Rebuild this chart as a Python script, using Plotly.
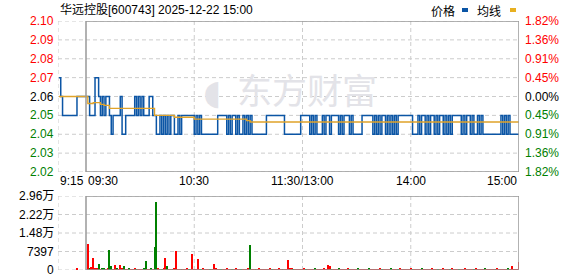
import plotly.graph_objects as go

# ---------------- data ----------------
title_text = "华远控股[600743] 2025-12-22 15:00"
prev_close = 2.06

# pre-market (9:15 - 9:29), minutes relative to 9:30
pre_minutes = [-15, -14, -13, -12, -11, -10, -9, -8, -7, -6, -5, -4, -3, -2, -1]
pre_price = [2.07, 2.06, 2.05, 2.05, 2.05, 2.05, 2.05, 2.05, 2.05, 2.05, 2.06, 2.06, 2.06, 2.06, 2.06]
pre_vol_minutes = [-5]
pre_vol = [500]

# trading minutes 0..240 (9:30-11:30, 13:00-15:00)
price = [
    2.06, 2.06, 2.05, 2.05, 2.05, 2.07, 2.07, 2.06, 2.05, 2.06,
    2.05, 2.06, 2.06, 2.05, 2.04, 2.05, 2.05, 2.05, 2.05, 2.06,
    2.04, 2.04, 2.05, 2.05, 2.05, 2.05, 2.05, 2.06, 2.05, 2.06,
    2.05, 2.06, 2.05, 2.05, 2.05, 2.06, 2.06, 2.05, 2.05, 2.04,
    2.04, 2.05, 2.04, 2.05, 2.04, 2.05, 2.04, 2.05, 2.05, 2.04,
    2.04, 2.05, 2.04, 2.05, 2.05, 2.05, 2.05, 2.05, 2.05, 2.05,
    2.04, 2.05, 2.04, 2.05, 2.04, 2.04, 2.04, 2.04, 2.04, 2.04,
    2.04, 2.04, 2.04, 2.05, 2.05, 2.05, 2.05, 2.05, 2.04, 2.05,
    2.04, 2.05, 2.05, 2.04, 2.05, 2.04, 2.04, 2.05, 2.04, 2.05,
    2.04, 2.05, 2.04, 2.04, 2.04, 2.04, 2.04, 2.04, 2.04, 2.04,
    2.05, 2.05, 2.05, 2.05, 2.05, 2.05, 2.05, 2.05, 2.05, 2.05,
    2.04, 2.04, 2.04, 2.04, 2.04, 2.04, 2.04, 2.04, 2.04, 2.05,
    2.05, 2.05, 2.05, 2.05, 2.04, 2.05, 2.04, 2.05, 2.04, 2.04,
    2.04, 2.05, 2.04, 2.05, 2.05, 2.04, 2.05, 2.05, 2.05, 2.05,
    2.04, 2.05, 2.04, 2.05, 2.05, 2.05, 2.04, 2.05, 2.04, 2.04,
    2.04, 2.04, 2.04, 2.05, 2.05, 2.05, 2.05, 2.05, 2.05, 2.04,
    2.05, 2.04, 2.05, 2.04, 2.05, 2.05, 2.04, 2.05, 2.04, 2.05,
    2.04, 2.05, 2.04, 2.05, 2.05, 2.05, 2.05, 2.05, 2.05, 2.05,
    2.05, 2.04, 2.04, 2.04, 2.05, 2.04, 2.05, 2.05, 2.04, 2.05,
    2.04, 2.05, 2.05, 2.04, 2.05, 2.04, 2.05, 2.05, 2.04, 2.05,
    2.04, 2.05, 2.04, 2.05, 2.05, 2.05, 2.05, 2.05, 2.04, 2.05,
    2.04, 2.05, 2.05, 2.04, 2.05, 2.04, 2.04, 2.05, 2.04, 2.05,
    2.04, 2.04, 2.04, 2.04, 2.04, 2.04, 2.04, 2.04, 2.04, 2.04,
    2.05, 2.04, 2.05, 2.04, 2.05, 2.04, 2.04, 2.04, 2.04, 2.04,
    2.04,
]

# average-price line (step changes)
avg_minutes = [-15, 1, 4, 8, 10, 13, 38, 49, 60, 89, 91, 240]
avg_price = [2.06, 2.0563, 2.0568, 2.0558, 2.0553, 2.0537, 2.0500, 2.0490, 2.0480, 2.0472, 2.0465, 2.0465]

volume = [
    0, 10400, 600, 1080, 4680, 1000, 500, 2270, 400, 500,
    450, 300, 500, 8000, 1600, 400, 2000, 500, 350, 2000,
    450, 1600, 400, 350, 500, 400, 300, 450, 400, 350,
    400, 350, 500, 3600, 400, 300, 450, 400, 9200, 27200,
    1000, 400, 350, 500, 4800, 1600, 400, 350, 300, 450,
    7700, 400, 350, 300, 400, 350, 450, 300, 400, 6400,
    400, 350, 4400, 400, 300, 450, 350, 400, 300, 350,
    400, 2400, 450, 350, 400, 300, 350, 400, 450, 300,
    350, 400, 300, 450, 350, 400, 300, 350, 400, 300,
    450, 10000, 400, 350, 400, 300, 450, 350, 300, 400,
    350, 400, 450, 300, 350, 400, 300, 450, 350, 400,
    300, 400, 4000, 1000, 450, 350, 400, 300, 350, 400,
    300, 450, 350, 400, 300, 350, 400, 450, 300, 350,
    400, 300, 450, 350, 2000, 1600, 400, 300, 350, 400,
    450, 300, 350, 400, 300, 450, 350, 400, 300, 350,
    400, 450, 300, 350, 400, 300, 350, 450, 400, 300,
    350, 400, 300, 450, 350, 400, 300, 350, 400, 450,
    300, 350, 400, 300, 450, 350, 400, 300, 350, 400,
    450, 300, 350, 400, 300, 350, 450, 400, 300, 350,
    400, 300, 450, 350, 400, 300, 350, 400, 450, 300,
    350, 400, 300, 450, 350, 400, 300, 350, 400, 300,
    450, 350, 400, 300, 350, 400, 450, 300, 350, 400,
    300, 450, 350, 400, 300, 350, 400, 300, 450, 350,
    400, 300, 350, 400, 450, 300, 1600, 350, 400, 300,
    3300,
]
volume_dir = ("rrgrrrrgrg" "grrggrrgrr" "rgrrgrrrgr" "rrggrrgrgg" "rrgrrgrrgr"
              "rrrgrrrgrr" "rrrrgrrrrg" "rrrrrgrrrr" "rgrrrrgrrr" "rgrrgrrrrr"
              "rrrgrrrrrg" "rrrrrgrrrr" "rrgrrrrgrr" "rrrrrrgrrr" "grrrrrgrrr"
              "rgrrrrrgrr" "rrrrgrrrrg" "rrrgrrrrrr" "rgrrrrgrrr" "rrrrrgrrrr"
              "rrgrrrrgrr" "rrrrrgrrrr" "rgrrrrrgrr" "rrrrgrrrrr" "r")

price_ticks = [2.10, 2.09, 2.08, 2.07, 2.06, 2.05, 2.04, 2.03, 2.02]
pct_labels = ["1.82%", "1.36%", "0.91%", "0.45%", "0.00%", "0.45%", "0.91%", "1.36%", "1.82%"]
vol_ticks = [29588, 22191, 14794, 7397, 0]
vol_labels = ["2.96万", "2.22万", "1.48万", "7397", "0"]
time_ticks = [-15.52, 0, 60, 120, 180, 240]
time_labels = ["9:15", "09:30", "10:30", "11:30/13:00", "14:00", "15:00"]

# ---------------- styling / layout ----------------
W, H = 578, 276
XMIN, XMAX = -15.52, 240
RED, GREEN, BLACK = "#ff0000", "#008000", "#000000"
BLUE, GOLD = "#0b55a5", "#e0a32a"
GRID = "#cccccc"
BOX = "#999999"
FONT = "Liberation Sans, Arial, Noto Sans CJK SC, sans-serif"
CJK = "Noto Sans CJK SC, sans-serif"

def px_x(px):
    return px / W

def px_y(py):
    return (H - py) / H

fig = go.Figure()

# watermark (drawn first -> below lines)
fig.add_trace(go.Scatter(
    x=[122.5], y=[2.0605], mode="text", text=["东方财富"],
    textfont=dict(family=CJK, size=35, color="#e3e3e8"),
    xaxis="x", yaxis="y", hoverinfo="skip", showlegend=False))
fig.add_trace(go.Scatter(
    x=[70], y=[2.0605], mode="text", text=["◖"],
    textfont=dict(family="DejaVu Sans", size=34, color="#e3e3e8"),
    xaxis="x", yaxis="y", hoverinfo="skip", showlegend=False))

# price line
fig.add_trace(go.Scatter(
    x=pre_minutes + list(range(len(price))), y=pre_price + price,
    mode="lines", line=dict(color=BLUE, width=1.5, shape="hv"),
    xaxis="x", yaxis="y", hoverinfo="skip", showlegend=False))
# average line
fig.add_trace(go.Scatter(
    x=avg_minutes, y=avg_price, mode="lines",
    line=dict(color=GOLD, width=1.3, shape="hv"),
    xaxis="x", yaxis="y", hoverinfo="skip", showlegend=False))

# volume bars
vol_colors = [RED if d == "r" else GREEN for d in volume_dir]
fig.add_trace(go.Bar(
    x=pre_vol_minutes + list(range(len(volume))), y=pre_vol + volume,
    marker=dict(color=[RED] * len(pre_vol) + vol_colors, line=dict(width=0)),
    width=0.6, xaxis="x2", yaxis="y2", hoverinfo="skip", showlegend=False))

shapes = []
dash = "4px,3px"
# price panel grid
for v in price_ticks:
    shapes.append(dict(type="line", xref="x", yref="y", x0=XMIN, x1=XMAX, y0=v, y1=v,
                       line=dict(color=GRID, width=1, dash=dash), layer="below"))
for t in [XMIN, 60, 120, 180]:
    shapes.append(dict(type="line", xref="x", yref="y", x0=t, x1=t,
                       y0=price_ticks[-1], y1=price_ticks[0],
                       line=dict(color=GRID, width=1, dash=dash), layer="below"))
shapes.append(dict(type="rect", xref="x", yref="y", x0=0, x1=XMAX,
                   y0=price_ticks[-1], y1=price_ticks[0],
                   line=dict(color=BOX, width=1.5)))
# volume panel grid
for v in vol_ticks:
    shapes.append(dict(type="line", xref="x2", yref="y2", x0=XMIN, x1=XMAX, y0=v, y1=v,
                       line=dict(color=GRID, width=1, dash=dash), layer="below"))
for t in [XMIN, 60, 120, 180]:
    shapes.append(dict(type="line", xref="x2", yref="y2", x0=t, x1=t,
                       y0=0, y1=vol_ticks[0],
                       line=dict(color=GRID, width=1, dash=dash), layer="below"))
shapes.append(dict(type="rect", xref="x2", yref="y2", x0=0, x1=XMAX,
                   y0=0, y1=vol_ticks[0], line=dict(color=BOX, width=1.5)))
# legend squares
shapes.append(dict(type="rect", xref="paper", yref="paper",
                   x0=px_x(462), x1=px_x(468), y0=px_y(12), y1=px_y(8),
                   fillcolor=BLUE, line=dict(width=0)))
shapes.append(dict(type="rect", xref="paper", yref="paper",
                   x0=px_x(510), x1=px_x(516), y0=px_y(12), y1=px_y(8),
                   fillcolor="#e8b020", line=dict(width=0)))

ann = []
def color_for(i, mid):
    if i < mid:
        return RED
    if i == mid:
        return BLACK
    return GREEN

mid = price_ticks.index(prev_close)
for i, v in enumerate(price_ticks):
    ann.append(dict(x=px_x(56), xref="paper", y=v, yref="y", text=f"{v:.2f}",
                    xanchor="right", yanchor="middle", showarrow=False,
                    font=dict(family=FONT, size=12, color=color_for(i, mid))))
    ann.append(dict(x=px_x(523), xref="paper", y=v, yref="y", text=pct_labels[i],
                    xanchor="left", yanchor="middle", showarrow=False,
                    font=dict(family=FONT, size=12, color=color_for(i, mid))))
for v, lab in zip(vol_ticks, vol_labels):
    ann.append(dict(x=px_x(56), xref="paper", y=v, yref="y2", text=lab,
                    xanchor="right", yanchor="middle", showarrow=False,
                    font=dict(family=FONT, size=12, color=BLACK)))
anchors = ["left", "left", "center", "center", "center", "right"]
for t, lab, a in zip(time_ticks, time_labels, anchors):
    ann.append(dict(x=t, xref="x", y=px_y(181), yref="paper", text=lab,
                    xanchor=a, yanchor="middle", showarrow=False,
                    font=dict(family=FONT, size=12, color=BLACK)))
ann.append(dict(x=px_x(58), xref="paper", y=px_y(10), yref="paper", text=title_text,
                xanchor="left", yanchor="middle", showarrow=False,
                font=dict(family=FONT, size=12, color=BLACK)))
ann.append(dict(x=px_x(457), xref="paper", y=px_y(10), yref="paper", text="价格",
                xanchor="right", yanchor="middle", showarrow=False,
                font=dict(family=CJK, size=12, color=BLACK)))
ann.append(dict(x=px_x(503), xref="paper", y=px_y(10), yref="paper", text="均线",
                xanchor="right", yanchor="middle", showarrow=False,
                font=dict(family=CJK, size=12, color=BLACK)))

xdom = [px_x(58), px_x(519)]
fig.update_layout(
    width=W, height=H, margin=dict(l=0, r=0, t=0, b=0),
    paper_bgcolor="white", plot_bgcolor="white",
    showlegend=False, bargap=0,
    xaxis=dict(domain=xdom, range=[XMIN, XMAX], visible=False, anchor="y"),
    yaxis=dict(domain=[px_y(172), px_y(21)], range=[price_ticks[-1], price_ticks[0]],
               visible=False, anchor="x"),
    xaxis2=dict(domain=xdom, range=[XMIN, XMAX], visible=False, anchor="y2"),
    yaxis2=dict(domain=[px_y(270), px_y(196)], range=[0, vol_ticks[0]],
                visible=False, anchor="x2"),
    shapes=shapes, annotations=ann,
)

fig.write_html("out.html")
